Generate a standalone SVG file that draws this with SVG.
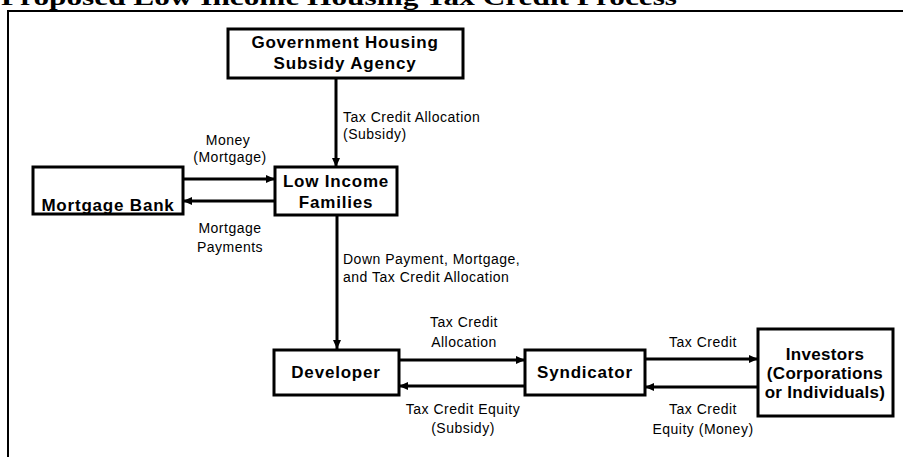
<svg xmlns="http://www.w3.org/2000/svg" width="903" height="457" viewBox="0 0 903 457">
  <style>
    .box { fill: #ffffff; stroke: #000000; stroke-width: 3; }
    .name { font-family: "Liberation Sans", Arial, sans-serif; font-weight: bold; font-size: 17px; letter-spacing: 0.8px; fill: #000000; text-anchor: middle; }
    .tight { letter-spacing: 0.3px; }
    .lbl { font-family: "Liberation Sans", Arial, sans-serif; font-size: 14px; letter-spacing: 0.5px; fill: #000000; }
    .mid { text-anchor: middle; }
    .flow { fill: none; stroke: #000000; stroke-width: 3; }
    .frame { fill: none; stroke: #000000; stroke-width: 2; }
    .title { font-family: "Liberation Serif", "Times New Roman", serif; font-weight: bold; font-size: 24px; fill: #000000; }
  </style>
  <defs>
    <marker id="arrow" markerUnits="userSpaceOnUse" markerWidth="10" markerHeight="10" refX="9" refY="5" orient="auto">
      <path d="M0,1 L9,5 L0,9 Z" fill="#000000"/>
    </marker>
  </defs>

  <rect width="903" height="457" fill="#ffffff"/>

  <!-- heading, cut off by the top edge -->
  <text class="title" x="1" y="5" textLength="676" lengthAdjust="spacingAndGlyphs">Proposed Low Income Housing Tax Credit Process</text>

  <!-- outer frame -->
  <path class="frame" d="M8,457 V11 H903"/>

  <!-- connectors -->
  <g id="connectors">
    <line class="flow" x1="336" y1="78" x2="336" y2="167" marker-end="url(#arrow)"/>
    <line class="flow" x1="183" y1="179" x2="275" y2="179" marker-end="url(#arrow)"/>
    <line class="flow" x1="275" y1="201" x2="183" y2="201" marker-end="url(#arrow)"/>
    <line class="flow" x1="337" y1="215" x2="337" y2="349" marker-end="url(#arrow)"/>
    <line class="flow" x1="399" y1="360" x2="525" y2="360" marker-end="url(#arrow)"/>
    <line class="flow" x1="525" y1="386" x2="399" y2="386" marker-end="url(#arrow)"/>
    <line class="flow" x1="645" y1="359" x2="758" y2="359" marker-end="url(#arrow)"/>
    <line class="flow" x1="758" y1="387" x2="645" y2="387" marker-end="url(#arrow)"/>

    <text class="lbl" x="343" y="122">Tax Credit Allocation</text>
    <text class="lbl" x="343" y="139">(Subsidy)</text>
    <text class="lbl mid" x="228" y="145">Money</text>
    <text class="lbl mid" x="230" y="162">(Mortgage)</text>
    <text class="lbl mid" x="230" y="233">Mortgage</text>
    <text class="lbl mid" x="230" y="252">Payments</text>
    <text class="lbl" x="343" y="264">Down Payment, Mortgage,</text>
    <text class="lbl" x="343" y="282">and Tax Credit Allocation</text>
    <text class="lbl mid" x="464" y="327">Tax Credit</text>
    <text class="lbl mid" x="464" y="347">Allocation</text>
    <text class="lbl mid" x="463" y="414">Tax Credit Equity</text>
    <text class="lbl mid" x="463" y="433">(Subsidy)</text>
    <text class="lbl mid" x="703" y="347">Tax Credit</text>
    <text class="lbl mid" x="703" y="414">Tax Credit</text>
    <text class="lbl mid" x="703" y="434">Equity (Money)</text>
  </g>

  <g id="government-agency">
    <rect class="box" x="228" y="29" width="235" height="49"/>
    <text class="name" x="345" y="48">Government Housing</text>
    <text class="name" x="345" y="69">Subsidy Agency</text>
  </g>

  <g id="mortgage-bank">
    <rect class="box" x="33" y="167" width="150" height="47"/>
    <text class="name" x="108" y="211">Mortgage Bank</text>
  </g>

  <g id="low-income-families">
    <rect class="box" x="275" y="167" width="122" height="48"/>
    <text class="name" x="336" y="187">Low Income</text>
    <text class="name" x="336" y="208">Families</text>
  </g>

  <g id="developer">
    <rect class="box" x="274" y="350" width="125" height="45"/>
    <text class="name" x="336" y="378">Developer</text>
  </g>

  <g id="syndicator">
    <rect class="box" x="525" y="350" width="120" height="45"/>
    <text class="name" x="585" y="378">Syndicator</text>
  </g>

  <g id="investors">
    <rect class="box" x="758" y="329" width="135" height="87"/>
    <text class="name tight" x="825" y="360">Investors</text>
    <text class="name tight" x="825" y="379">(Corporations</text>
    <text class="name tight" x="825" y="398">or Individuals)</text>
  </g>
</svg>
